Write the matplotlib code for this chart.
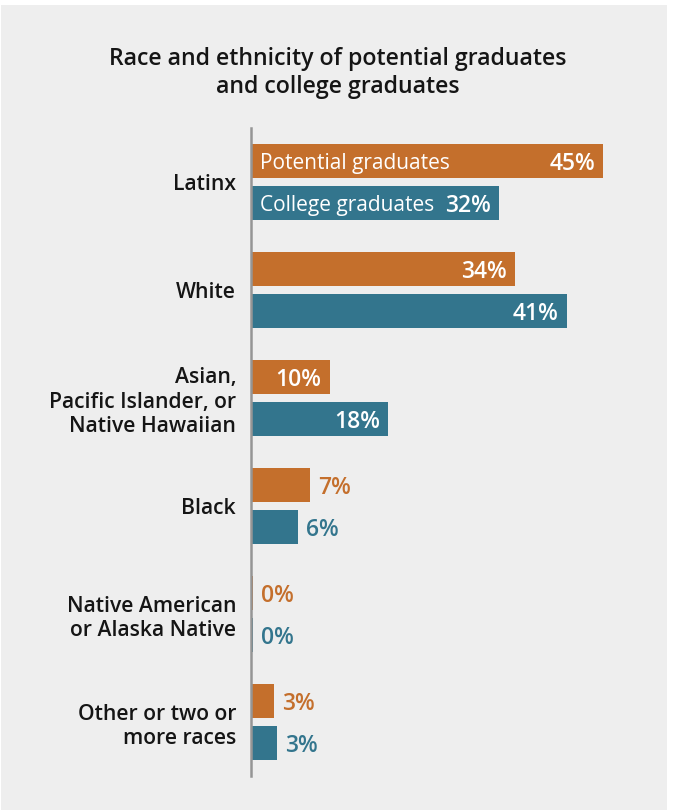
import matplotlib
matplotlib.use("Agg")
import matplotlib.pyplot as plt
from matplotlib.patches import Rectangle
import numpy as np

categories = ["Latinx", "White", "Asian,\nPacific Islander, or\nNative Hawaiian", "Black",
              "Native American\nor Alaska Native", "Other or two or\nmore races"]
potential = [45.5, 34.1, 10.2, 7.7, 0.3, 3.0]
college = [32.0, 40.8, 17.7, 6.1, 0.3, 3.4]
potential_labels = ["45%", "34%", "10%", "7%", "0%", "3%"]
college_labels = ["32%", "41%", "18%", "6%", "0%", "3%"]
series_names = ["Potential graduates", "College graduates"]
title = "Race and ethnicity of potential graduates\nand college graduates"

ORANGE = "#C46F2C"
TEAL = "#33758D"
BG = "#EEEEEE"
FONT = "Open Sans"

W, H = 673, 810
fig = plt.figure(figsize=(W / 100, H / 100), dpi=100, facecolor="white")
fig.add_artist(Rectangle((1 / W, 0), 666 / W, 805 / H, transform=fig.transFigure,
                         facecolor=BG, edgecolor="none", zorder=-10))

left, right, top, bottom = 250.6, 667, 128, 776
ax = fig.add_axes([left / W, 1 - bottom / H, (right - left) / W, (bottom - top) / H])
ax.set_facecolor("none")
pxper = 7.75
ax.set_xlim(0, (right - left) / pxper)
ax.set_ylim(5.5, -0.5)

y = np.arange(len(categories))
h = 34 / 108
off = 21 / 108
ax.barh(y - off, potential, height=h, color=ORANGE, left=0)
ax.barh(y + off, college, height=h, color=TEAL, left=0)

for spine in ["top", "right", "bottom"]:
    ax.spines[spine].set_visible(False)
ax.spines["left"].set_color("#959595")
ax.spines["left"].set_linewidth(1.8)
ax.set_xticks([])
ax.set_yticks(y)
ax.set_yticklabels(categories, fontsize=15.2, fontfamily=FONT, fontweight="semibold",
                   color="#151515", linespacing=1.2)
ax.tick_params(axis="y", length=0, pad=10.5)

pad_px = 8
for vals, labs, col, yo in [(potential, potential_labels, ORANGE, -off),
                            (college, college_labels, TEAL, off)]:
    for i, (v, lab) in enumerate(zip(vals, labs)):
        if v >= 10:
            ax.text(v - pad_px / pxper, i + yo, lab, ha="right", va="center_baseline",
                    color="white", fontsize=16.5, fontfamily=FONT, fontweight="semibold")
        else:
            ax.text(v + pad_px / pxper, i + yo, lab, ha="left", va="center_baseline",
                    color=col, fontsize=16.5, fontfamily=FONT, fontweight="semibold")

ax.text(9 / pxper, -off, series_names[0], ha="left", va="center_baseline",
        color="white", fontsize=15, fontfamily=FONT)
ax.text(9 / pxper, off, series_names[1], ha="left", va="center_baseline",
        color="white", fontsize=15, fontfamily=FONT)

fig.text(338 / W, 1 - 73 / H, title, ha="center", va="center", fontsize=16.7,
         fontfamily=FONT, fontweight="semibold", color="#151515", linespacing=1.25)

fig.savefig("out.png", dpi=100, facecolor="white")
